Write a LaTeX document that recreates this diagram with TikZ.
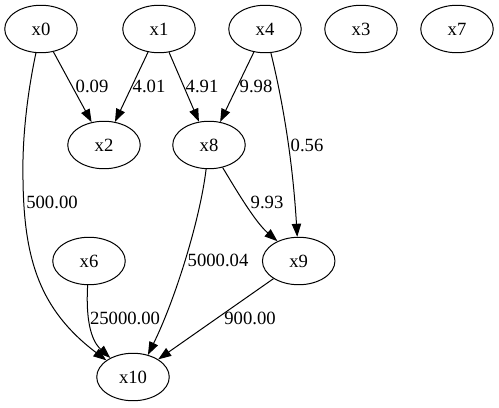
\documentclass[tikz,border=0pt]{standalone}
\usepackage{fontspec}
\setmainfont{Liberation Serif}
\usetikzlibrary{shapes.geometric,arrows.meta}
\begin{document}
\begin{tikzpicture}[x=0.75pt,y=-0.75pt,
  vnode/.style={draw,ellipse,line width=0.75pt,minimum width=54.4pt,minimum height=35.6pt,inner sep=0pt,font=\fontsize{14}{16}\selectfont},
  elabel/.style={font=\fontsize{14}{16}\selectfont,inner sep=0pt},
  edge/.style={line width=0.75pt,-{Triangle[length=9.75pt,width=7pt]}}]
\useasboundingbox (0,0) rectangle (499,407);
% nodes
\node[vnode] (x0) at (41,29) {x0};
\node[vnode] (x1) at (159,29) {x1};
\node[vnode] (x4) at (265,29) {x4};
\node[vnode] (x3) at (361,29) {x3};
\node[vnode] (x7) at (457,29) {x7};
\node[vnode] (x2) at (104,145) {x2};
\node[vnode] (x8) at (209,145) {x8};
\node[vnode] (x6) at (89,261) {x6};
\node[vnode] (x9) at (298.7,261) {x9};
\node[vnode] (x10) at (133,377) {x10};
\coordinate (b0) at (23,180);
% edges
\draw[edge] (x0) -- (x2);
\draw[edge] (x1) -- (x2);
\draw[edge] (x1) -- (x8);
\draw[edge] (x4) -- (x8);
\draw[edge] (x4) .. controls (280,90) and (292,150) .. (x9);
\draw[edge] (x0) .. controls (27,95) and (22,140) .. (b0) .. controls (24,260) and (40,310) .. (x10.148);
\draw[edge] (x6) .. controls (85,332) and (96,345) .. (x10.140);
\draw[edge] (x8) .. controls (200,220) and (175,300) .. (x10.56);
\draw[edge] (x8) .. controls (235,188) and (255,222) .. (x9.137);
\draw[edge] (x9) -- (x10);
% labels
\node[elabel] (l02) at (92,86) {0.09};
\node[elabel] (l12) at (149,86) {4.01};
\node[elabel] (l18) at (202,86) {4.91};
\node[elabel] (l48) at (256,86) {9.98};
\node[elabel] (l49) at (307,145) {0.56};
\node[elabel] (l010) at (52,202) {500.00};
\node[elabel] (l89) at (267,202) {9.93};
\node[elabel] (l810) at (218,260) {5000.04};
\node[elabel] (l610) at (125,318) {25000.00};
\node[elabel] (l910) at (250,318) {900.00};
\end{tikzpicture}
\end{document}
